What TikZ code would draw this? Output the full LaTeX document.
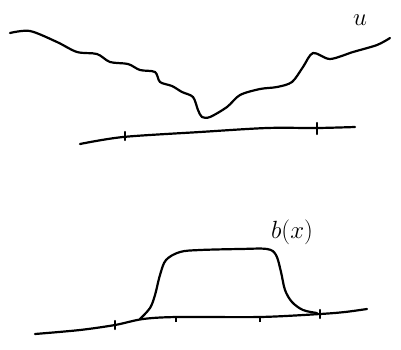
\documentclass[tikz,border=0pt]{standalone}
\begin{document}
\begin{tikzpicture}[x=1pt,y=-1pt,
  pen/.style={line width=2.2pt,line cap=round,line join=round},
  tickmark/.style={line width=2.4pt,line cap=round},
  lbl/.style={inner sep=0pt}]
\useasboundingbox (0,0) rectangle (401,349);
% top curve u
\draw[pen] plot[smooth,tension=0.5] coordinates {(10,33) (30,31) (57,42) (77,52) (97,54) (110,62) (128,64) (140,70) (155,72) (160,82) (172,86) (182,92) (193,97) (198,110) (202,117) (210,117) (227,107) (240,95) (260,89) (277,87) (292,82) (303,67) (313,53) (330,59) (353,52) (377,45) (390,38)};
\node[lbl,font=\fontsize{30}{32}\selectfont] (u) at (360,20) {$u$};
% top axis
\draw[pen] plot[smooth] coordinates {(80,144) (123,137) (200,132) (267,128) (317,128) (355,127)};
\coordinate (ta) at (125,137);
\coordinate (tb) at (317,128);
\draw[tickmark] ([yshift=-3]ta) -- ([yshift=5]ta);
\draw[tickmark] ([yshift=-6]tb) -- ([yshift=5]tb);
% bottom axis
\draw[pen] plot[smooth] coordinates {(35,334) (80,330) (115,325) (143,319) (177,317) (260,317) (320,314) (345,312) (367,309)};
\coordinate (ba) at (115,325);
\coordinate (bb) at (176,317);
\coordinate (bc) at (260,317);
\coordinate (bd) at (320,314);
\draw[tickmark] ([yshift=-4]ba) -- ([yshift=4]ba);
\draw[line width=1.4pt] ([yshift=-5]bb) -- (bb);
\draw[line width=1.4pt] ([yshift=-5]bc) -- (bc);
\draw[tickmark] ([yshift=-4]bd) -- ([yshift=4]bd);
% bump b(x)
\draw[pen] plot[smooth,tension=0.55] coordinates {(140,319) (150,308) (155,295) (160,275) (166,260) (180,252) (200,250) (240,249) (267,249) (276,255) (281,272) (285,290) (292,302) (303,310) (317,313)};
\node[lbl,font=\fontsize{24}{26}\selectfont] (b) at (292,232) {$b(x)$};
\end{tikzpicture}
\end{document}
